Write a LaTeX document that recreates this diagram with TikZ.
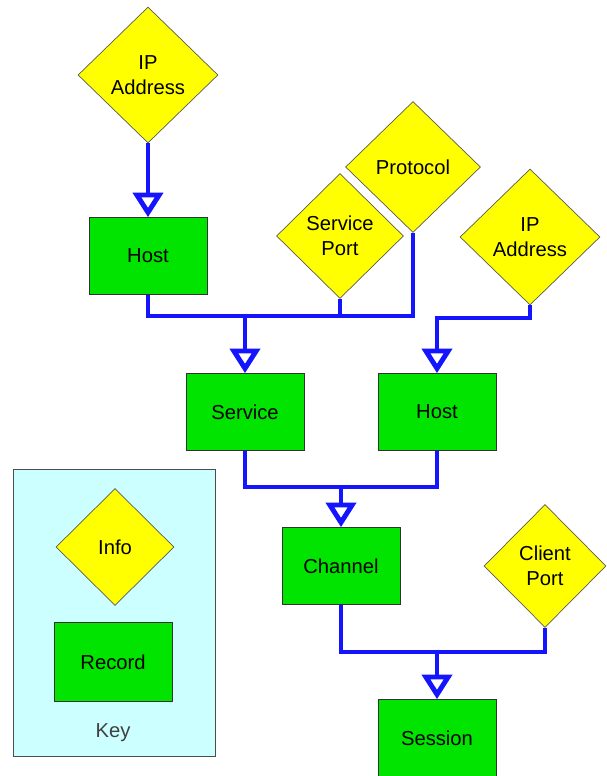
\documentclass[tikz,border=0pt]{standalone}
\usepackage{fontspec}
\setmainfont{Liberation Sans}
\usetikzlibrary{shapes.geometric,arrows.meta}
\definecolor{infoyellow}{RGB}{255,255,0}
\definecolor{recgreen}{RGB}{0,228,0}
\definecolor{keycyan}{RGB}{204,255,255}
\definecolor{linkblue}{RGB}{20,20,255}
\begin{document}
\begin{tikzpicture}[
      x=0.02cm, y=-0.02cm,
      font=\fontsize{11.5}{14}\selectfont,
      info/.style={diamond, draw=black!65, fill=infoyellow, inner sep=0pt, align=center,
        minimum width=2.8cm, minimum height=2.72cm},
      record/.style={rectangle, draw=black!80, fill=recgreen, minimum width=2.36cm, minimum height=1.54cm},
      keybox/.style={rectangle, draw=black!70, fill=keycyan, minimum width=4.04cm, minimum height=5.74cm},
      link/.style={draw=linkblue, line width=2.8pt},
      feed/.style={link, -{Triangle[open, length=14pt, width=17pt, fill=white]}}
    ]
      \clip (0,0) rectangle (606,776);
      % key
      \node[keybox] (key) at (114,613) {};
      \node[info, minimum width=2.36cm, minimum height=2.34cm] (info) at (115,547) {Info};
      \node[record, minimum height=1.58cm] (rec) at (113,662) {Record};
      \node[text=black!75] (keylbl) at (113,733) {Key};
      % records and info
      \node[info] (ipa) at (148,75) {IP\\Address};
      \node[record] (hosta) at (148,256) {Host};
      \node[info, minimum width=2.54cm, minimum height=2.5cm] (port) at (340,236) {Service\\Port};
      \node[info, minimum width=2.7cm, minimum height=2.62cm] (proto) at (413,167) {Protocol};
      \node[info] (ipb) at (530,237) {IP\\Address};
      \node[record] (service) at (245,412) {Service};
      \node[record] (hostb) at (437,412) {Host};
      \node[record] (channel) at (341,566) {Channel};
      \node[info, minimum width=2.44cm, minimum height=2.46cm] (client) at (545,566) {Client\\Port};
      \node[record] (session) at (437,738) {Session};
      % joins
      \coordinate (jsvc) at (245,316);
      \coordinate (jhost) at (437,318);
      \coordinate (jchan) at (341,487);
      \coordinate (jsess) at (437,652);
      \draw[feed] (ipa) -- (hosta);
      \draw[link] (hosta.south) |- (jsvc) -| (proto.south);
      \draw[link] (port.south) -- (port.south |- jsvc);
      \draw[feed] (jsvc) -- (service.north);
      \draw[feed] (ipb.south) |- (jhost) -- (hostb.north);
      \draw[link] (service.south) |- (jchan) -| (hostb.south);
      \draw[feed] (jchan) -- (channel.north);
      \draw[link] (channel.south) |- (jsess) -| (client.south);
      \draw[feed] (jsess) -- (session.north);
    \end{tikzpicture}
\end{document}
